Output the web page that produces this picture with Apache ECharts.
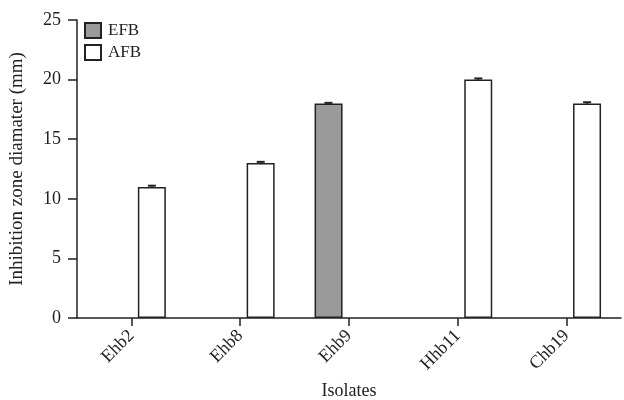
<!DOCTYPE html>
<html><head><meta charset="utf-8">
<script src="https://cdn.jsdelivr.net/npm/echarts@6/dist/echarts.min.js"></script>
<style>html,body{margin:0;padding:0;background:#fff}#c{width:624px;height:400px}</style>
</head><body><div id="c"></div>
<script>
const categories = ['Ehb2', 'Ehb8', 'Ehb9', 'Hhb11', 'Chb19'];
const efbValues = [null, null, 18, null, null];
const afbValues = [11, 13, null, 20, 18];
const efbErrors = [null, null, 0.05, null, null];
const afbErrors = [0.1, 0.1, null, 0.1, 0.1];
const yTicks = [0, 5, 10, 15, 20, 25];

const font = 'Liberation Serif, Times New Roman, serif';
const chart = echarts.init(document.getElementById('c'));

function errSeries(vals, errs, offset) {
  const data = vals.map((v, i) => v == null ? null : [i, v, errs[i]]).filter(d => d);
  return {
    type: 'custom', z: 5, silent: true,
    renderItem: function (params, api) {
      const i = api.value(0), v = api.value(1), e = api.value(2);
      const top = api.coord([i, v + e]);
      const bot = api.coord([i, v - e]);
      const x = top[0] + offset;
      return { type: 'group', children: [
        { type: 'line', shape: { x1: x, y1: top[1], x2: x, y2: bot[1] }, style: { stroke: '#222', lineWidth: 1.5 } },
        { type: 'line', shape: { x1: x - 4, y1: top[1], x2: x + 4, y2: top[1] }, style: { stroke: '#222', lineWidth: 2 } }
      ]};
    },
    data: data
  };
}

chart.setOption({
  animation: false,
  grid: { left: 77, right: 3, top: 20, height: 298, containLabel: false, outerBoundsMode: 'none' },
  legend: {
    left: 84, top: 22, orient: 'vertical', itemWidth: 16, itemHeight: 15, itemGap: 5,
    padding: 0, icon: 'rect',
    textStyle: { fontFamily: font, fontSize: 17, color: '#222', padding: [0, 0, 0, 2] },
    data: ['EFB', 'AFB']
  },
  xAxis: {
    type: 'category', data: categories,
    name: 'Isolates', nameLocation: 'middle', nameGap: 64,
    nameTextStyle: { fontFamily: font, fontSize: 18, color: '#222' },
    axisLine: { lineStyle: { color: '#222', width: 1.5 } },
    axisTick: { show: true, alignWithLabel: true, length: 8, lineStyle: { color: '#222', width: 1.5 } },
    axisLabel: { rotate: 45, margin: 15, fontFamily: font, fontSize: 18, color: '#222' }
  },
  yAxis: {
    type: 'value', min: 0, max: 25, interval: 5,
    name: 'Inhibition zone diamater (mm)', nameLocation: 'middle', nameGap: 50,
    nameTextStyle: { fontFamily: font, fontSize: 19, color: '#222' },
    axisLine: { show: true, lineStyle: { color: '#222', width: 1.5 } },
    axisTick: { show: true, length: 9, lineStyle: { color: '#222', width: 1.5 } },
    axisLabel: { margin: 16, fontFamily: font, fontSize: 18, color: '#222',
      formatter: v => yTicks.includes(v) ? String(v) : '' },
    splitLine: { show: false }
  },
  series: [
    { name: 'EFB', type: 'bar', data: efbValues, barWidth: 28, barGap: '46%',
      itemStyle: { color: '#9a9a9a', borderColor: '#222', borderWidth: 1.5 } },
    { name: 'AFB', type: 'bar', data: afbValues, barWidth: 28, barGap: '46%',
      itemStyle: { color: '#ffffff', borderColor: '#222', borderWidth: 1.5 } },
    errSeries(efbValues, efbErrors, -20.5),
    errSeries(afbValues, afbErrors, 20.5)
  ]
});
</script></body></html>
